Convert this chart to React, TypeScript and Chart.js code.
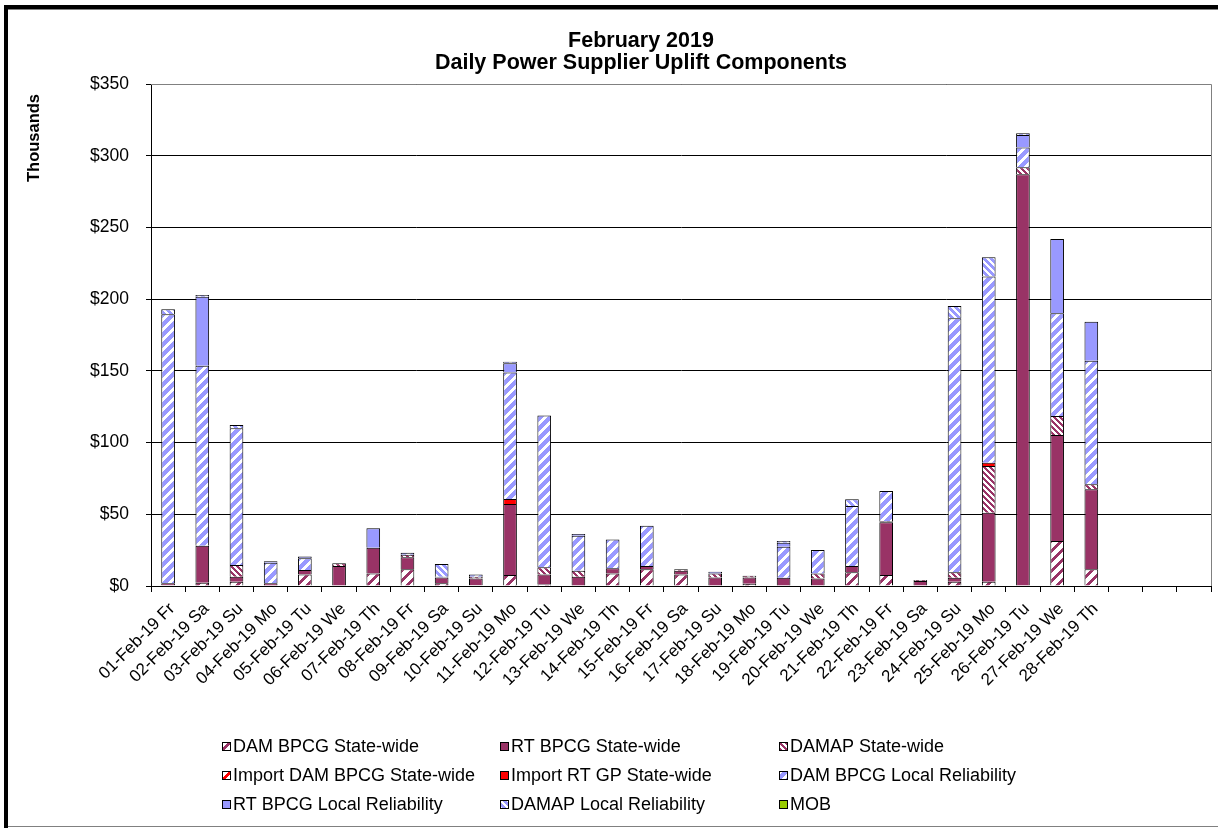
import React, { useEffect, useRef } from 'react';
import { Chart, registerables } from 'chart.js';

Chart.register(...registerables);

const categories = [
  '01-Feb-19 Fr', '02-Feb-19 Sa', '03-Feb-19 Su', '04-Feb-19 Mo', '05-Feb-19 Tu', '06-Feb-19 We', '07-Feb-19 Th',
  '08-Feb-19 Fr', '09-Feb-19 Sa', '10-Feb-19 Su', '11-Feb-19 Mo', '12-Feb-19 Tu', '13-Feb-19 We', '14-Feb-19 Th',
  '15-Feb-19 Fr', '16-Feb-19 Sa', '17-Feb-19 Su', '18-Feb-19 Mo', '19-Feb-19 Tu', '20-Feb-19 We', '21-Feb-19 Th',
  '22-Feb-19 Fr', '23-Feb-19 Sa', '24-Feb-19 Su', '25-Feb-19 Mo', '26-Feb-19 Tu', '27-Feb-19 We', '28-Feb-19 Th',
  '', '', '',
];

// values in $ thousands
const damBpcgStateWide = [0.5, 2.3, 3, 0.3, 8.1, 0, 8.8, 11.6, 2, 0.5, 7.7, 1, 0, 8.8, 11.6, 8.1, 0, 1.5, 0, 0, 9.5, 7.7, 0, 3, 3, 0, 31.4, 11.6];
const rtBpcgStateWide = [1.5, 25.8, 3.5, 1.6, 3.1, 13.9, 17.9, 8.4, 4, 4.8, 49.5, 7.1, 6.5, 3.5, 2.3, 2.5, 6, 4.5, 5.8, 5.3, 4.4, 36.7, 3.5, 2.8, 48.1, 287, 73.9, 55.8];
const damapStateWide = [0, 0, 8.1, 0, 0, 1.9, 0, 1.8, 0, 1.2, 0, 4.9, 4.2, 0, 0, 1.0, 2.8, 1.2, 0, 3.5, 0, 0.8, 0.7, 3.7, 32.6, 5, 13.2, 3.5];
const importDamBpcgStateWide = [0, 0, 0, 0, 0, 0, 0, 0, 0, 0, 0, 0, 0, 0, 0, 0, 0, 0, 0, 0, 0, 0, 0, 0, 0, 0, 0, 0];
const importRtGpStateWide = [0, 0, 0, 0, 0, 0, 0, 0, 0, 0, 3.5, 0, 0, 0, 0, 0, 0, 0, 0, 0, 0, 0, 0, 0, 2.3, 0, 0, 0];
const damBpcgLocalReliability = [187.4, 125.5, 95.4, 14.3, 8.1, 0, 0, 1.4, 0.5, 1.6, 88.1, 105.8, 24.3, 20.1, 28.1, 0, 0, 0, 21.6, 16.3, 41.9, 21.0, 0, 177.2, 129.7, 13.7, 71.7, 86.2];
const rtBpcgLocalReliability = [0, 48.1, 0, 1, 1.2, 0, 13.5, 0, 0, 0, 6.5, 0, 1.3, 0, 0, 0, 1.2, 0, 2.8, 0, 0, 0, 0, 0, 0, 8.8, 51.8, 27.2];
const damapLocalReliability = [3.6, 1.2, 2.3, 0, 0, 0, 0, 0, 8.8, 0, 1.1, 0, 0, 0, 0, 0, 0, 0, 1.2, 0, 4.6, 0, 0, 8.6, 13.5, 1.1, 0, 0];
const mob = [0, 0, 0, 0, 0, 0, 0, 0, 0, 0, 0, 0, 0, 0, 0, 0, 0, 0, 0, 0, 0, 0, 0, 0, 0, 0, 0, 0];

const yTicks = [0, 50, 100, 150, 200, 250, 300, 350];

const titleLines = ['February 2019', 'Daily Power Supplier Uplift Components'];
const yTitle = 'Thousands';

const FONT = '"Liberation Sans", Arial, sans-serif';
const MAROON = '#993366';
const BLUE = '#9999FF';
const RED = '#FF0000';
const GREEN = '#99CC00';

function stripe(fg: string, bg: string, size: number, width: number, dir: 'up' | 'down'): CanvasPattern | string {
  const c = document.createElement('canvas');
  c.width = size;
  c.height = size;
  const ctx = c.getContext('2d');
  if (!ctx) return fg;
  for (let y = 0; y < size; y++) {
    for (let x = 0; x < size; x++) {
      const k = dir === 'up' ? (x + y) % size : ((x - y) % size + size) % size;
      ctx.fillStyle = k < width ? fg : bg;
      ctx.fillRect(x, y, 1, 1);
    }
  }
  return ctx.createPattern(c, 'repeat') || fg;
}

export default function App() {
  const ref = useRef<HTMLCanvasElement | null>(null);

  useEffect(() => {
    const canvas = ref.current;
    if (!canvas) return;

    const fills = {
      damSW: stripe(MAROON, '#FFFFFF', 10, 4, 'up'),
      rtSW: MAROON,
      damapSW: stripe(MAROON, '#FFFFFF', 6, 3, 'down'),
      impDam: stripe(RED, '#FFFFFF', 10, 4, 'up'),
      impRt: RED,
      damLR: stripe('#FFFFFF', BLUE, 10, 4, 'up'),
      rtLR: BLUE,
      damapLR: stripe('#FFFFFF', BLUE, 7, 3, 'down'),
      mob: GREEN,
    };

    const series = [
      { label: 'DAM BPCG State-wide', data: damBpcgStateWide, bg: fills.damSW },
      { label: 'RT BPCG State-wide', data: rtBpcgStateWide, bg: fills.rtSW },
      { label: 'DAMAP State-wide', data: damapStateWide, bg: fills.damapSW },
      { label: 'Import DAM BPCG State-wide', data: importDamBpcgStateWide, bg: fills.impDam },
      { label: 'Import RT GP State-wide', data: importRtGpStateWide, bg: fills.impRt },
      { label: 'DAM BPCG Local Reliability', data: damBpcgLocalReliability, bg: fills.damLR },
      { label: 'RT BPCG Local Reliability', data: rtBpcgLocalReliability, bg: fills.rtLR },
      { label: 'DAMAP Local Reliability', data: damapLocalReliability, bg: fills.damapLR },
      { label: 'MOB', data: mob, bg: fills.mob },
    ];

    const decor = {
      id: 'decor',
      beforeDraw(chart: any) {
        const ctx = chart.ctx;
        ctx.save();
        ctx.fillStyle = '#FFFFFF';
        ctx.fillRect(0, 0, chart.width, chart.height);
        ctx.restore();
      },
      afterDraw(chart: any) {
        const ctx = chart.ctx;
        const area = chart.chartArea;
        ctx.save();
        // plot area border (top / right)
        ctx.strokeStyle = '#808080';
        ctx.lineWidth = 1;
        ctx.beginPath();
        ctx.moveTo(area.left, Math.round(area.top) + 0.5);
        ctx.lineTo(Math.round(area.right) + 0.5, Math.round(area.top) + 0.5);
        ctx.lineTo(Math.round(area.right) + 0.5, area.bottom);
        ctx.stroke();

        // outer frame
        ctx.fillStyle = '#000000';
        ctx.fillRect(4, 5, chart.width - 4, 4);
        ctx.fillRect(4, 5, 4, chart.height - 5);
        ctx.fillStyle = '#808080';
        ctx.fillRect(8, 9, chart.width - 8, 1);
        ctx.fillRect(8, chart.height - 2, chart.width - 8, 1);

        // title
        ctx.fillStyle = '#000000';
        ctx.textAlign = 'center';
        ctx.textBaseline = 'alphabetic';
        ctx.font = `bold 21.5px ${FONT}`;
        ctx.fillText(titleLines[0], 641, 47);
        ctx.fillText(titleLines[1], 641, 69);

        // y title
        ctx.save();
        ctx.translate(34, 138);
        ctx.rotate(-Math.PI / 2);
        ctx.font = `bold 16.5px ${FONT}`;
        ctx.textBaseline = 'middle';
        ctx.fillText(yTitle, 0, 0);
        ctx.restore();

        // legend (3 x 3 grid)
        const colX = [222, 500, 779];
        const rowY = [746, 775, 804];
        ctx.font = `18px ${FONT}`;
        ctx.textAlign = 'left';
        ctx.textBaseline = 'middle';
        series.forEach((s, i) => {
          const cx = colX[i % 3];
          const cy = rowY[Math.floor(i / 3)];
          ctx.fillStyle = s.bg as any;
          ctx.fillRect(cx, cy - 4, 9, 9);
          ctx.strokeStyle = '#000000';
          ctx.lineWidth = 1;
          ctx.strokeRect(cx + 0.5, cy - 3.5, 8, 8);
          ctx.fillStyle = '#000000';
          ctx.fillText(s.label, cx + 11, cy + 1);
        });
        ctx.restore();
      },
    };

    const chart = new Chart(canvas, {
      type: 'bar',
      data: {
        labels: categories,
        datasets: series.map((s) => ({
          label: s.label,
          data: s.data,
          backgroundColor: s.bg as any,
          borderColor: '#000000',
          borderWidth: { top: 1, left: 1, right: 1, bottom: 0 },
          borderSkipped: false,
          barPercentage: 0.4,
          categoryPercentage: 1,
          stack: 'a',
        })),
      },
      options: {
        responsive: false,
        animation: false,
        layout: { padding: { left: 0, right: 7, top: 84, bottom: 0 } },
        plugins: {
          legend: { display: false },
          title: { display: false },
          tooltip: { enabled: false },
        },
        scales: {
          x: {
            stacked: true,
            afterFit: (scale: any) => {
              scale.height = 242;
            },
            grid: {
              display: true,
              drawOnChartArea: false,
              drawTicks: true,
              tickLength: 6,
              color: '#000000',
              offset: true,
            },
            border: { display: true, color: '#000000', width: 1 },
            ticks: {
              autoSkip: false,
              maxRotation: 45,
              minRotation: 45,
              padding: 7,
              labelOffset: 4,
              color: '#000000',
              font: { family: FONT, size: 17 },
            },
          },
          y: {
            stacked: true,
            min: 0,
            max: 350,
            afterFit: (scale: any) => {
              scale.width = 151;
            },
            afterBuildTicks: (scale: any) => {
              scale.ticks = yTicks.map((v) => ({ value: v }));
            },
            grid: {
              color: '#000000',
              tickLength: 5,
              drawTicks: true,
            },
            border: { display: true, color: '#000000', width: 1 },
            ticks: {
              padding: 17,
              color: '#000000',
              font: { family: FONT, size: 17.5 },
              callback: (v: any) => '$' + v,
            },
          },
        },
      },
      plugins: [decor],
    });

    return () => chart.destroy();
  }, []);

  return (
    <div style={{ position: 'absolute', left: 0, top: 0, width: 1218, height: 828 }}>
      <canvas ref={ref} width={1218} height={828} />
    </div>
  );
}
